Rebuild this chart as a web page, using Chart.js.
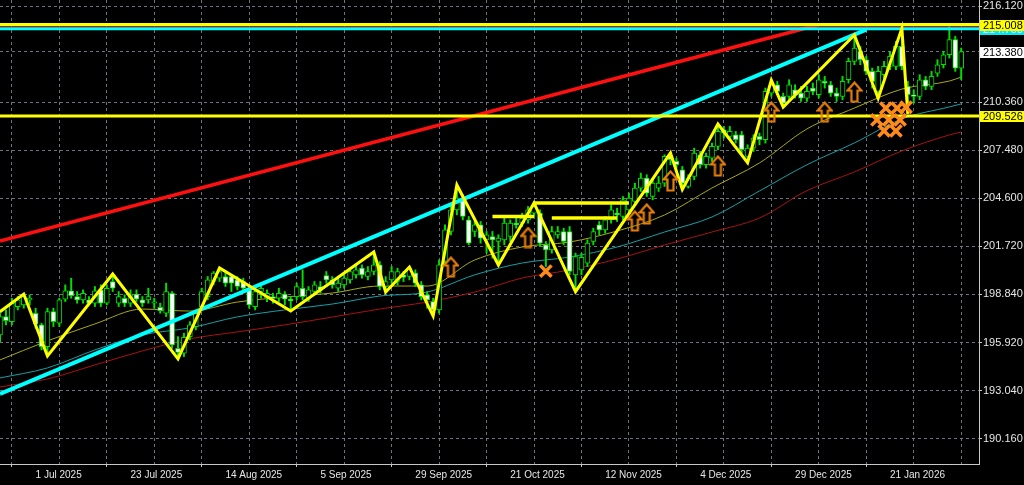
<!DOCTYPE html>
<html>
<head>
<meta charset="utf-8">
<script src="https://cdn.jsdelivr.net/npm/chart.js@4.4.1/dist/chart.umd.min.js"></script>
<style>
html,body{margin:0;padding:0;background:#000;overflow:hidden}
canvas{display:block}
</style>
</head>
<body>
<canvas id="chart" width="1024" height="485"></canvas>
<script>
// Daily candles, bar 0 = 23 Jun 2025 ... bar 162 = 6 Feb 2026
const openP = [
196.4,197.5,197.2,198.1,198.2,198.5,197.7,197.0,195.7,197.8,
197.1,198.55,199.05,198.7,198.5,198.5,198.3,199.1,198.3,199.6,
198.3,198.6,198.3,198.85,198.5,198.5,198.3,198.05,197.7,198.9,
195.6,195.3,196.3,196.9,198.1,198.7,199.6,199.8,199.9,199.9,
199.7,199.6,199.1,198.1,199.0,198.6,198.7,198.6,198.85,198.5,
198.7,199.2,198.6,199.0,199.3,199.95,199.7,199.2,199.4,199.7,
200.0,200.4,199.9,200.2,200.6,199.3,199.7,199.6,200.0,199.9,
200.1,199.4,198.8,198.4,197.9,200.8,202.6,203.9,204.5,203.3,
202.6,203.0,202.1,202.3,202.0,202.1,202.3,203.1,203.1,203.3,
203.7,203.7,201.8,201.5,202.4,202.6,202.6,200.0,200.3,200.7,
202.0,203.0,202.7,203.3,203.7,203.5,203.9,204.4,205.2,205.8,
204.7,205.2,205.5,207.1,206.8,206.3,205.3,205.9,207.2,206.6,
207.0,207.7,208.7,208.3,208.4,208.4,207.1,207.6,208.3,208.1,
210.9,211.4,210.7,210.7,211.1,210.9,210.6,211.2,210.8,211.6,
211.4,210.9,210.7,211.7,212.8,213.4,212.9,212.2,211.0,212.0,
212.5,212.5,213.7,211.3,210.8,210.7,211.7,211.3,212.1,212.6,
213.2,214.1,212.4];
const highP = [
197.8,197.9,198.6,198.7,198.85,198.8,198.0,197.1,198.0,198.0,
198.6,199.4,199.8,199.0,199.1,198.7,199.3,199.4,199.4,200.05,
199.0,198.8,199.1,199.1,198.7,199.2,198.6,198.3,199.5,199.0,
196.3,196.5,197.2,197.9,199.2,199.9,200.2,200.41,200.1,200.0,
199.9,199.8,199.3,199.3,199.5,199.1,198.9,199.2,199.0,198.7,
199.5,200.3,199.3,199.6,199.6,200.2,199.9,199.8,200.0,200.4,
200.6,200.6,200.5,201.37,200.8,199.9,200.5,200.4,200.2,200.47,
200.3,199.6,199.0,198.6,200.9,203.0,204.2,205.39,204.8,203.5,
203.2,203.2,202.6,202.6,202.4,203.4,203.3,203.4,203.7,204.1,
204.31,203.9,202.0,202.9,202.9,202.8,202.9,201.3,201.3,202.1,
202.8,203.2,203.5,204.2,204.0,204.7,204.9,205.5,206.1,206.0,
205.7,205.9,207.2,207.31,207.0,206.5,206.0,207.6,207.4,207.3,
207.9,209.04,208.9,208.9,208.6,208.6,207.8,208.4,208.5,211.2,
211.68,211.6,210.9,211.7,211.4,211.3,211.3,211.5,212.0,211.9,
211.6,211.2,211.9,213.0,214.38,213.7,213.1,212.4,212.5,212.8,
213.4,214.0,214.78,211.6,211.1,212.0,211.9,212.2,212.9,213.4,
215.08,214.3,213.6];
const lowP = [
196.0,197.0,197.0,197.9,198.0,198.2,196.8,195.5,195.14,196.9,
196.9,198.4,198.6,198.3,198.3,198.2,198.1,198.1,198.2,199.0,
198.1,198.1,198.1,198.4,198.1,198.3,198.0,197.7,197.5,195.6,
194.96,195.1,196.1,196.7,197.9,198.5,199.4,199.6,199.3,199.0,
199.1,199.0,198.0,197.9,198.6,198.4,198.3,198.4,198.2,197.83,
198.5,198.5,198.4,198.8,198.9,199.5,199.2,199.0,199.2,199.5,
199.8,199.8,199.7,200.0,199.1,198.97,199.5,199.4,199.6,199.7,
199.3,198.5,198.0,197.53,197.7,200.6,202.4,203.6,203.3,201.8,
202.3,201.9,201.3,201.0,200.6,201.8,202.0,202.8,202.9,203.1,
203.5,201.7,200.5,201.3,202.2,201.8,200.0,198.99,200.0,200.5,
201.8,202.4,202.5,203.1,203.2,203.3,203.7,204.2,205.0,204.7,
204.5,205.0,205.3,206.6,206.4,205.12,205.2,205.7,206.4,206.4,
206.8,207.5,208.2,208.1,207.9,207.3,206.72,207.4,207.8,207.9,
210.7,210.8,210.06,210.5,210.6,210.4,210.4,210.8,210.6,211.2,
210.7,210.4,210.5,211.5,212.6,212.6,212.0,211.2,210.58,211.8,
212.3,212.3,212.3,209.65,210.3,210.5,211.1,211.1,211.9,212.4,
213.0,212.2,211.7];
const closeP = [
197.5,197.25,198.3,198.5,198.7,198.6,197.05,195.7,197.8,197.2,
198.5,199.05,198.75,198.5,198.9,198.3,199.05,198.3,199.2,199.2,
198.7,198.3,198.8,198.55,198.3,198.7,198.35,197.85,199.0,195.8,
195.35,196.25,197.0,197.7,199.0,199.7,200.1,200.2,199.5,199.5,
199.3,199.2,198.2,199.0,199.2,198.9,198.6,198.9,198.55,198.45,
199.3,198.7,199.1,199.4,199.1,199.7,199.4,199.5,199.8,200.2,
200.3,200.0,200.2,200.6,199.3,199.6,200.2,200.2,199.85,200.4,
199.5,198.7,198.5,197.9,200.6,202.7,203.9,204.6,203.5,201.9,
203.0,202.2,202.4,202.1,202.2,203.1,203.1,203.0,203.4,203.9,
204.1,201.9,201.5,202.6,202.6,202.0,200.2,201.1,201.05,201.9,
202.6,202.7,203.3,203.9,203.6,204.5,204.6,205.2,205.8,204.9,
205.5,205.5,207.1,206.9,206.6,205.5,205.8,207.3,206.6,207.1,
207.7,208.6,208.5,208.6,208.1,207.5,207.6,208.2,208.1,211.0,
211.4,211.0,210.3,211.4,210.8,210.6,211.0,211.0,211.7,211.5,
210.9,210.7,211.6,212.8,213.6,212.9,212.2,211.6,212.2,212.5,
213.1,213.7,212.5,210.8,210.7,211.7,211.3,211.9,212.6,213.2,
214.1,212.4,213.38];

// Time axis labels (one every 16 bars, first at bar 6)
const dateTicks = ['1 Jul 2025','23 Jul 2025','14 Aug 2025','5 Sep 2025','29 Sep 2025',
                   '21 Oct 2025','12 Nov 2025','4 Dec 2025','29 Dec 2025','21 Jan 2026'];
const firstDateBar = 6, barsPerDateTick = 16, barsPerGrid = 8, lastSlot = 165;

// Price axis
const priceTicks = [216.12, 213.38, 210.36, 207.48, 204.60, 201.72, 198.84, 195.92, 193.04, 190.16];
const priceTickLabels = ['216.120', '', '210.360', '207.480', '204.600', '201.720', '198.840', '195.920', '193.040', '190.160'];
const priceMin = 188.66, priceMax = 216.48;

// ZigZag swing points
const zigzagBars   = [0, 4, 8, 19, 30, 37, 49, 63, 65, 69, 73, 77, 84, 90, 97, 113, 115, 121, 126, 130, 132, 144, 148, 152, 153];
const zigzagPrices = [197.79, 198.85, 195.14, 200.05, 194.96, 200.41, 197.83, 201.37, 198.97, 200.47, 197.53, 205.39, 200.59, 204.31, 198.99, 207.31, 205.12, 209.04, 206.72, 211.68, 210.06, 214.38, 210.58, 214.78, 209.65];

// Moving averages, sampled every 8 bars
const maBars = [0, 8, 16, 24, 32, 40, 48, 56, 64, 72, 80, 88, 96, 104, 112, 120, 128, 136, 144, 152, 160, 162];
const maFast = [194.90, 196.04, 197.06, 197.95, 197.83, 198.37, 198.67, 198.91, 199.33, 199.33, 200.89, 201.67, 201.97, 202.63, 203.59, 205.21, 206.71, 208.75, 210.00, 211.14, 211.62, 211.86];
const maMid  = [193.82, 194.42, 195.50, 196.40, 196.82, 197.48, 197.90, 198.25, 198.73, 198.97, 200.00, 200.71, 201.07, 201.67, 202.57, 203.47, 205.03, 206.60, 207.91, 209.35, 210.07, 210.25];
const maSlow = [193.28, 193.76, 194.60, 195.44, 196.16, 196.58, 197.00, 197.47, 197.95, 198.37, 198.97, 199.81, 200.29, 200.95, 201.79, 202.57, 203.41, 205.05, 206.17, 207.43, 208.39, 208.57];

// Drawn objects
const resistanceLevel = 215.008;
const supportLevel = 209.526;
const cyanLevel = 214.76;
const redLevel = 214.92;
const cyanTrendBars = [0, 146],   cyanTrendPrices = [192.86, 214.70];
const redTrendBars  = [0, 138],   redTrendPrices  = [202.03, 215.00];
const shelfStartBars = [83, 90, 93];
const shelfEndBars   = [90, 106, 104];
const shelfPrices    = [203.50, 204.31, 203.41];

// Signal markers
const buyArrowBars   = [76, 89, 107, 109, 113, 121, 130, 139, 144];
const buyArrowPrices = [200.47, 202.24, 203.23, 203.65, 205.63, 206.53, 209.76, 209.76, 210.96];
const crossBars   = [92, 149.3, 151.2, 152.7, 147.8, 149.8, 151.7, 149.0, 151.0];
const crossPrices = [200.23, 210.00, 210.00, 210.05, 209.29, 209.29, 209.29, 208.63, 208.63];

// ---------------------------------------------------------------
const GREEN = '#00e000';
const GRID = 'rgba(125,138,150,0.85)';
const AXIS = '#c8c8c8';
const TEXT = '#e6e6e6';
Chart.defaults.font.family = "'Liberation Sans', Arial, sans-serif";

const bars = openP.map((_, i) => i);
const wickData = bars.map(i => ({x: i, y: [lowP[i], highP[i]]}));
const bodyData = bars.map(i => ({x: i, y: [openP[i], closeP[i]]}));
const bodyFill = bars.map(i => closeP[i] >= openP[i] ? '#000000' : '#ffffff');
const pts = (xs, ys) => xs.map((x, k) => ({x, y: ys[k]}));
const flat = (v) => [{x: 0, y: v}, {x: lastSlot, y: v}];

function arrowIcon() {
  const c = document.createElement('canvas');
  c.width = 17; c.height = 22;
  const g = c.getContext('2d');
  g.strokeStyle = '#e67e0c';
  g.lineWidth = 2.2;
  g.lineJoin = 'miter';
  g.beginPath();
  g.moveTo(8.5, 1.5);
  g.lineTo(15.5, 9.5);
  g.lineTo(11.5, 9.5);
  g.lineTo(11.5, 20.5);
  g.lineTo(5.5, 20.5);
  g.lineTo(5.5, 9.5);
  g.lineTo(1.5, 9.5);
  g.closePath();
  g.stroke();
  return c;
}

const lineBase = {type: 'line', pointRadius: 0, fill: false, clip: 0, tension: 0};

const datasets = [
  // moving averages
  {...lineBase, data: pts(maBars, maSlow), borderColor: '#a81212', borderWidth: 1, tension: 0.4, cubicInterpolationMode: 'monotone', order: 12},
  {...lineBase, data: pts(maBars, maMid),  borderColor: '#14a0a6', borderWidth: 1, tension: 0.4, cubicInterpolationMode: 'monotone', order: 11},
  {...lineBase, data: pts(maBars, maFast), borderColor: '#a8a814', borderWidth: 1, tension: 0.4, cubicInterpolationMode: 'monotone', order: 10},
  // candles
  {type: 'bar', data: wickData, backgroundColor: GREEN, borderWidth: 0, barThickness: 1.3, grouped: false, clip: 0, order: 9},
  {type: 'bar', data: bodyData, backgroundColor: bodyFill, borderColor: GREEN, borderWidth: 1, borderSkipped: false,
   barThickness: 5, minBarLength: 1.5, grouped: false, clip: 0, order: 8},
  // trend lines and levels
  {...lineBase, data: pts(redTrendBars, redTrendPrices), borderColor: '#ff1010', borderWidth: 3.5, order: 7},
  {...lineBase, data: flat(redLevel), borderColor: '#ff2020', borderWidth: 1.5, order: 6},
  {...lineBase, data: pts(cyanTrendBars, cyanTrendPrices), borderColor: '#00ffff', borderWidth: 4, order: 5},
  {...lineBase, data: flat(cyanLevel), borderColor: '#00ffff', borderWidth: 3, order: 5},
  {...lineBase, data: flat(resistanceLevel), borderColor: '#ffff00', borderWidth: 3, order: 4},
  {...lineBase, data: flat(supportLevel), borderColor: '#ffff00', borderWidth: 3, order: 4},
  ...shelfPrices.map((p, k) => ({...lineBase, data: [{x: shelfStartBars[k], y: p}, {x: shelfEndBars[k], y: p}],
     borderColor: '#ffff00', borderWidth: 3.5, order: 4})),
  // zigzag
  {...lineBase, data: pts(zigzagBars, zigzagPrices), borderColor: '#ffff00', borderWidth: 3, borderJoinStyle: 'miter', order: 3},
  // signals
  {...lineBase, showLine: false, data: pts(buyArrowBars, buyArrowPrices), pointStyle: arrowIcon(), pointRadius: 10, order: 2},
  {...lineBase, showLine: false, data: pts(crossBars, crossPrices), pointStyle: 'crossRot', pointRadius: 8,
   pointBorderWidth: 3.5, pointBorderColor: '#ff8c1a', pointBackgroundColor: '#ff8c1a', order: 1}
];

// price tags on the right axis
const priceTags = [
  {v: cyanLevel, text: '214.760', bg: '#00e8f0', fg: '#f4f4f4'},
  {v: closeP[closeP.length - 1], text: '213.380', bg: '#ffffff', fg: '#000000'},
  {v: supportLevel, text: '209.526', bg: '#ffff00', fg: '#000000'},
  {v: resistanceLevel, text: '215.008', bg: '#ffff00', fg: '#000000'}
];
const priceTagPlugin = {
  id: 'priceTags',
  afterDraw(chart) {
    const ctx = chart.ctx, ys = chart.scales.y, left = chart.chartArea.right + 1;
    ctx.save();
    ctx.font = "11px 'Liberation Sans', Arial, sans-serif";
    ctx.textBaseline = 'middle';
    ctx.textAlign = 'left';
    priceTags.forEach(t => {
      const py = ys.getPixelForValue(t.v);
      ctx.fillStyle = t.bg;
      ctx.fillRect(left, Math.round(py) - 5, chart.width - left, 11);
      ctx.fillStyle = t.fg;
      ctx.fillText(t.text, left + 3, Math.round(py) + 0.5);
    });
    ctx.restore();
  }
};
const bgPlugin = {
  id: 'bg',
  beforeDraw(chart) {
    const ctx = chart.ctx;
    ctx.save(); ctx.fillStyle = '#000'; ctx.fillRect(0, 0, chart.width, chart.height); ctx.restore();
  }
};

new Chart(document.getElementById('chart'), {
  type: 'bar',
  data: {datasets},
  options: {
    responsive: false,
    animation: false,
    devicePixelRatio: 1,
    layout: {padding: 0, autoPadding: false},
    plugins: {legend: {display: false}, tooltip: {enabled: false}, title: {display: false}},
    scales: {
      x: {
        type: 'linear', min: 0, max: lastSlot, offset: false,
        afterBuildTicks: s => {
          const t = [];
          for (let b = firstDateBar; b <= lastSlot; b += barsPerGrid) t.push({value: b});
          s.ticks = t;
        },
        afterFit: s => { s.height = 21; s.paddingLeft = 0; s.paddingRight = 0; },
        ticks: {
          autoSkip: false, maxRotation: 0, minRotation: 0, align: 'start', padding: 2,
          color: TEXT, font: {size: 10},
          callback: v => {
            const k = (v - firstDateBar) / barsPerDateTick;
            return Number.isInteger(k) && dateTicks[k] ? dateTicks[k] : '';
          }
        },
        grid: {
          color: GRID, lineWidth: 1, tickLength: 3, drawTicks: true,
          tickColor: c => (c.tick && c.tick.label) ? AXIS : 'rgba(0,0,0,0)'
        },
        border: {display: true, color: AXIS, width: 1, dash: [3, 3]}
      },
      y: {
        position: 'right', min: priceMin, max: priceMax,
        afterBuildTicks: s => { s.ticks = priceTicks.map(v => ({value: v})); },
        afterFit: s => { s.width = 45; s.paddingTop = 0; s.paddingBottom = 0; },
        ticks: {
          autoSkip: false, padding: 1, color: TEXT, font: {size: 11},
          callback: v => {
            const k = priceTicks.findIndex(p => Math.abs(p - v) < 1e-6);
            return k >= 0 ? priceTickLabels[k] : '';
          }
        },
        grid: {color: GRID, lineWidth: 1, tickLength: 3, tickColor: AXIS},
        border: {display: true, color: AXIS, width: 1, dash: [3, 3]}
      }
    }
  },
  plugins: [bgPlugin, priceTagPlugin]
});
</script>
</body>
</html>
